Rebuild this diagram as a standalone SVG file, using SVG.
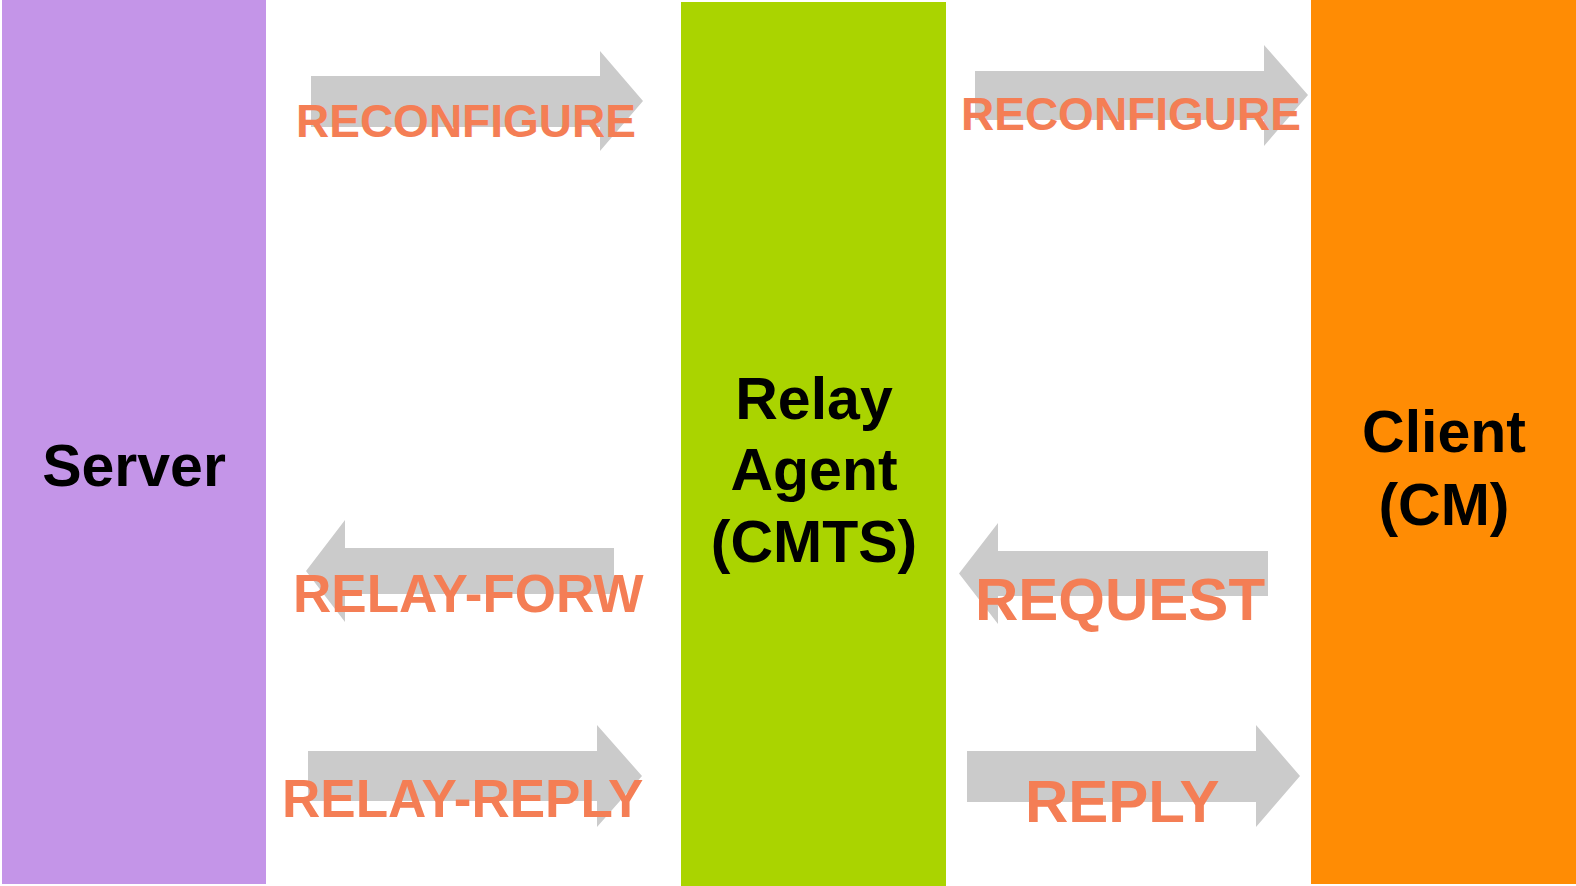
<svg xmlns="http://www.w3.org/2000/svg" width="1576" height="886" viewBox="0 0 1576 886">
<style>
.node-label{font-family:"Liberation Sans",Arial,sans-serif;font-weight:bold;font-size:59px;fill:#000;text-anchor:middle}
.arrow{fill:#CBCBCB}
.msg{font-family:"Liberation Sans",Arial,sans-serif;font-weight:bold;fill:#F47E55}
</style>
<rect x="0" y="0" width="1576" height="886" fill="#fff"/>
<g id="server">
<rect x="2" y="0" width="264" height="884" fill="#C495E8"/>
<text class="node-label" x="134" y="486">Server</text>
</g>
<g id="relay-agent">
<rect x="681" y="2" width="265" height="884" fill="#AAD400"/>
<text class="node-label" x="814" y="419">Relay</text>
<text class="node-label" x="814" y="490">Agent</text>
<text class="node-label" x="814" y="562">(CMTS)</text>
</g>
<g id="client">
<rect x="1311" y="0" width="265" height="884" fill="#FF8C04"/>
<text class="node-label" x="1444" y="452">Client</text>
<text class="node-label" x="1444" y="525">(CM)</text>
</g>
<g id="connectors">
<polygon class="arrow" points="311,76 600,76 600,51 643,101 600,151 600,127 311,127"/>
<text class="msg" x="296" y="137" font-size="46">RECONFIGURE</text>
<polygon class="arrow" points="975,71 1264,71 1264,45 1308,95 1264,146 1264,120 975,120"/>
<text class="msg" x="961" y="130" font-size="46">RECONFIGURE</text>
<polygon class="arrow" points="614,548 345,548 345,520 306,571 345,622 345,594 614,594"/>
<text class="msg" x="293" y="612" font-size="53">RELAY-FORW</text>
<polygon class="arrow" points="1268,551 998,551 998,523 959,573.5 998,624 998,596 1268,596"/>
<text class="msg" x="975" y="620" font-size="60">REQUEST</text>
<polygon class="arrow" points="308,751 597,751 597,725 642,776 597,827 597,801 308,801"/>
<text class="msg" x="282" y="817" font-size="53">RELAY-REPLY</text>
<polygon class="arrow" points="967,751 1256,751 1256,725 1300,776 1256,827 1256,802 967,802"/>
<text class="msg" x="1025" y="822" font-size="60">REPLY</text>
</g>
</svg>
